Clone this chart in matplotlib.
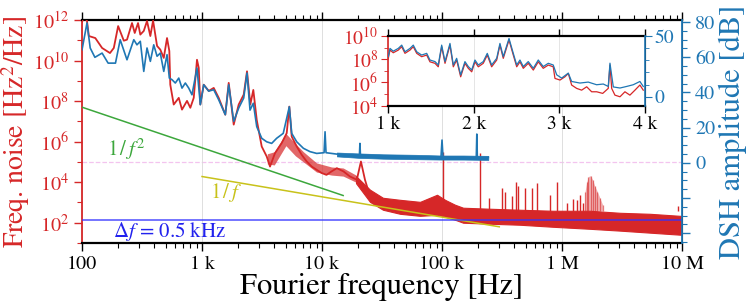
import matplotlib
matplotlib.use('Agg')
import matplotlib.pyplot as plt
import numpy as np
from matplotlib.ticker import FixedLocator, FuncFormatter, NullFormatter, MultipleLocator

plt.rcParams['font.family'] = 'STIXGeneral'
plt.rcParams['mathtext.fontset'] = 'stix'

RED = '#d62728'
BLUE = '#1f77b4'

# ---- main plot, red: frequency noise PSD, log10(Hz^2/Hz)
red_f = [100, 104, 110, 114, 129, 147, 171, 184, 200, 223, 237, 261, 275, 293, 306, 327,
         348, 371, 391, 422, 449, 480, 511, 534, 544, 581, 640, 681, 750, 799, 853, 908,
         939, 968, 1033, 1137, 1252, 1377, 1563, 1669, 1837, 2022, 2226, 2371, 2527, 2676,
         2858, 3144, 3459, 3687, 4055, 4613, 5079, 5340, 5590, 6155, 6773, 7458, 8209,
         9030, 9944, 10900, 12000, 13300, 15100, 17100, 19500, 21100, 22800, 25100]
red_log = [11.9, 12.2, 11.95, 11.21, 11.11, 10.62, 10.37, 10.62, 11.70, 10.98, 11.03, 11.85,
           11.36, 11.85, 11.28, 11.46, 11.95, 11.21, 11.97, 10.72, 10.54, 10.13, 11.11, 10.47,
           8.81, 7.83, 8.16, 7.58, 8.01, 7.67, 8.16, 10.04, 9.64, 7.83, 8.81, 8.50, 8.65,
           8.16, 7.33, 8.90, 6.84, 7.83, 8.32, 9.47, 7.83, 8.55, 7.07, 5.76, 5.27, 4.77,
           5.43, 5.93, 6.42, 7.73, 6.25, 5.76, 5.35, 5.02, 4.77, 4.61, 4.45, 4.36, 4.53,
           4.69, 4.53, 4.28, 4.12, 5.02, 4.12, 3.30]

# noisy spread of the red trace between 3 k and 19 k
mid_f = [3500, 4000, 5000, 6000, 7000, 9000, 12000, 15000, 19200]
mid_hi = [5.4, 5.5, 6.4, 5.9, 5.5, 4.95, 4.75, 4.7, 4.35]
mid_lo = [4.9, 4.85, 5.8, 5.3, 5.0, 4.5, 4.35, 4.3, 4.0]

# dense high-frequency noise floor (envelope of the red trace)
band_f = [19200, 25100, 32200, 44700, 65600, 90900, 106000, 128000, 150000, 251000,
          447000, 841000, 1710000, 3040000, 5410000, 9620000, 10000000]
band_hi = [4.30, 3.63, 3.23, 3.13, 3.03, 3.38, 3.13, 2.89, 2.74, 2.69, 2.64, 2.59, 2.59,
           2.49, 2.44, 2.34, 2.34]
band_lo = [3.95, 3.03, 2.64, 2.44, 2.34, 2.39, 2.30, 2.15, 2.00, 1.95, 1.90, 1.80, 1.70,
           1.61, 1.51, 1.41, 1.41]

# narrow spurs on top of the floor
spike_f = [101000, 207000, 248000, 314000, 335000, 380000, 414000, 432000, 492000, 559000,
           622000, 794000, 903000, 1090000, 1230000, 1330000, 1410000, 1500000, 9310000]
spike_top = [5.51, 5.45, 3.22, 3.71, 3.54, 3.30, 3.99, 3.79, 3.71, 3.71, 3.96, 3.38, 3.99,
             2.97, 3.17, 3.13, 3.38, 2.97, 2.84]

# spur cluster around 1.7 MHz
cl_f = [1555000, 1610000, 1660000, 1730000, 1800000, 1880000, 1970000, 2070000, 2180000]
cl_top = [3.54, 4.03, 4.28, 4.32, 4.12, 3.79, 3.54, 3.22, 2.89]

# ---- main plot, blue: DSH amplitude in dB
blue_f = [100, 110, 117, 128, 147, 165, 190, 208, 237, 270, 287, 306, 327, 348, 371, 396,
          422, 449, 480, 511, 534, 562, 599, 640, 681, 726, 775, 825, 908, 968, 1033, 1137,
          1252, 1377, 1563, 1669, 1837, 2022, 2226, 2371, 2512, 2676, 2858, 3144, 3459,
          3806, 4188, 4752, 5340, 5590, 6155, 6998, 7943, 9030, 10400, 10600, 10800, 13300,
          17100, 20500, 20700, 20900, 32400, 61300, 98000, 100000, 102000, 193000, 195000,
          197000, 243000]
blue_db = [64.2, 79.4, 65.2, 59.9, 62.3, 56.6, 56.6, 69.9, 58.5, 69.9, 67.0, 69.0, 51.9,
           65.2, 57.6, 67.0, 60.5, 62.3, 51.9, 61.4, 48.1, 47.2, 45.3, 48.1, 42.4, 45.3,
           42.4, 38.6, 53.8, 33.0, 44.3, 40.7, 41.5, 35.8, 27.3, 44.3, 23.5, 31.1, 36.8,
           51.0, 29.9, 33.8, 20.5, 13.9, 11.9, 11.0, 13.9, 16.7, 31.8, 16.7, 11.9, 8.2,
           6.3, 5.3, 5.7, 17.6, 5.7, 4.9, 4.4, 4.4, 11.0, 4.4, 3.8, 3.4, 2.8, 12.9, 2.8,
           3.0, 16.3, 3.0, 3.0]
bband_f = [13300, 20000, 32400, 61300, 99000, 150000, 243000]
bband_lo = [3.6, 2.8, 2.3, 2.0, 1.8, 1.8, 1.6]
bband_hi = [5.8, 5.3, 4.8, 4.5, 4.1, 4.1, 3.9]

# guide lines (end points)
f2_f, f2_val = [100, 15000], [5e7, 2.2e3]
f1_f, f1_val = [1000, 300000], [1.9e4, 63]
df_level = 141
zero_level = 1e5

# ---- inset (1 k .. 4 k, linear)
in_f = [1000, 1020, 1058, 1117, 1157, 1195, 1254, 1292, 1332, 1390, 1449, 1487, 1546, 1584,
        1624, 1663, 1721, 1760, 1799, 1846, 1896, 1935, 1975, 2013, 2052, 2110, 2157, 2208,
        2267, 2305, 2344, 2411, 2461, 2501, 2539, 2578, 2636, 2695, 2753, 2811, 2870, 2928,
        2948, 3007, 3065, 3104, 3143, 3202, 3260, 3319, 3377, 3436, 3506, 3571, 3591, 3611,
        3649, 3708, 3766, 3824, 3883, 3941, 3980]
in_red_log = [8.08, 8.79, 8.56, 8.79, 9.08, 8.51, 8.79, 9.08, 8.51, 8.22, 8.36, 7.78, 7.65,
              7.35, 9.08, 7.65, 9.22, 7.35, 7.93, 6.49, 7.65, 7.22, 6.92, 7.78, 7.35, 7.65,
              8.36, 7.35, 7.93, 9.22, 8.08, 9.66, 8.36, 7.35, 7.78, 7.22, 7.65, 7.07, 7.78,
              7.22, 7.50, 7.35, 6.35, 6.21, 6.49, 6.78, 5.78, 5.49, 5.34, 5.63, 5.20, 5.20,
              5.06, 5.49, 7.50, 5.49, 4.91, 4.77, 5.20, 4.91, 5.34, 5.78, 5.34]
in_blue_f = [1000, 1020, 1058, 1117, 1157, 1195, 1254, 1292, 1332, 1390, 1449, 1487, 1546,
             1584, 1624, 1663, 1721, 1760, 1799, 1846, 1896, 1935, 1975, 2013, 2052, 2110,
             2157, 2208, 2267, 2305, 2344, 2411, 2461, 2501, 2539, 2578, 2636, 2695, 2753,
             2811, 2870, 2928, 2968, 3026, 3104, 3143, 3240, 3337, 3435, 3513, 3571, 3591,
             3630, 3708, 3786, 3863, 3941, 3980]
in_blue_db = [33.0, 39.8, 37.5, 39.8, 42.5, 37.0, 39.8, 42.5, 37.0, 34.3, 35.7, 30.2, 28.9,
              26.1, 42.5, 28.9, 43.9, 26.1, 31.6, 17.9, 28.9, 24.8, 22.0, 30.2, 26.1, 28.9,
              35.7, 26.1, 31.6, 43.9, 33.0, 48.0, 35.7, 26.1, 30.2, 24.8, 28.9, 23.4, 30.2,
              24.8, 27.5, 26.1, 18.0, 15.3, 19.4, 12.5, 11.2, 12.0, 9.8, 10.4, 8.4, 27.6,
              8.0, 7.1, 8.4, 9.8, 12.5, 8.4]

xticks = [1e2, 1e3, 1e4, 1e5, 1e6, 1e7]
xticklabels = ['100', '1 k', '10 k', '100 k', '1 M', '10 M']


def p(v):
    return 10 ** np.asarray(v, dtype=float)


fig = plt.figure(figsize=(7.47, 3.05), dpi=100)
ax = fig.add_axes([0.1098, 0.2033, 0.8032, 0.7311])

ax.fill_between(mid_f, p(mid_lo), p(mid_hi), color=RED, alpha=0.7, lw=0, zorder=2)
ax.fill_between(band_f, p(band_lo), p(band_hi), color=RED, lw=0.8, zorder=2)
ax.fill_between(cl_f, p([2.59] * len(cl_f)), p(cl_top), color=RED, alpha=0.35, lw=0, zorder=2)
ax.vlines(cl_f, p([2.59] * len(cl_f)), p(cl_top), color=RED, alpha=0.6, lw=0.9, zorder=2)
ax.vlines(spike_f, p([2.6] * len(spike_f)), p(spike_top), color=RED, lw=1.0, zorder=2)
ax.plot(red_f, p(red_log), color=RED, lw=1.3, zorder=3)

ax.axhline(zero_level, color='#f3c4ef', lw=0.9, ls='--', zorder=1)
ax.plot(f2_f, f2_val, color='#3ca73c', lw=1.1, zorder=4)
ax.plot(f1_f, f1_val, color='#c8c21a', lw=1.1, zorder=4)
ax.axhline(df_level, color='#3333ff', lw=1.2, alpha=0.8, zorder=4)

ax.text(162, 4.0e5, r'$1\,/\,f^2$', color='#3ca73c', fontsize=15, va='center')
ax.text(1170, 3.0e3, r'$1\,/\,f$', color='#c8c21a', fontsize=15, va='center')
ax.text(181, 36, r'$\Delta f$ = 0.5 kHz', color='#2222ee', fontsize=15, va='center')

ax.set_xscale('log')
ax.set_yscale('log')
ax.set_xlim(100, 1e7)
ax.set_ylim(1e1, 1e12)
ax.xaxis.set_major_locator(FixedLocator(xticks))
ax.set_xticklabels(xticklabels)
ax.yaxis.set_major_locator(FixedLocator([1e2, 1e4, 1e6, 1e8, 1e10, 1e12]))
ax.yaxis.set_minor_locator(FixedLocator([1e1, 1e3, 1e5, 1e7, 1e9, 1e11]))
ax.yaxis.set_minor_formatter(NullFormatter())
ax.grid(True, axis='x', which='major', color='#d9d9d9', lw=0.6)
ax.tick_params(axis='x', which='both', direction='out', top=True, labelsize=14.5)
ax.tick_params(axis='x', which='major', length=6, width=1)
ax.tick_params(axis='x', which='minor', length=3.5, width=0.8)
ax.tick_params(axis='y', which='both', direction='out', colors=RED, labelsize=14.5)
ax.tick_params(axis='y', which='major', length=6, width=1)
ax.tick_params(axis='y', which='minor', length=3.5, width=0.8)
ax.spines['left'].set_color(RED)
ax.spines['left'].set_linewidth(1.3)
ax.spines['top'].set_linewidth(1.6)
ax.spines['bottom'].set_linewidth(1.6)
ax.set_xlabel('Fourier frequency [Hz]', fontsize=22, labelpad=0)
ax.set_ylabel('Freq. noise [Hz$^2$/Hz]', fontsize=20, color=RED)
ax.yaxis.set_label_coords(-0.084, 0.5)

ax2 = ax.twinx()
ax2.fill_between(bband_f, bband_lo, bband_hi, color=BLUE, lw=0.5)
ax2.plot(blue_f, blue_db, color=BLUE, lw=1.2)
ax2.set_ylim(-45.6, 81.1)
ax2.yaxis.set_major_locator(MultipleLocator(20))
ax2.yaxis.set_minor_locator(MultipleLocator(5))
ax2.yaxis.set_major_formatter(FuncFormatter(lambda v, pos: '' if v < 0 else '%d' % v))
ax2.tick_params(axis='y', which='both', direction='out', colors=BLUE, labelsize=14.5)
ax2.tick_params(axis='y', which='major', length=6, width=1)
ax2.tick_params(axis='y', which='minor', length=3.5, width=0.8)
ax2.spines['right'].set_color(BLUE)
ax2.spines['right'].set_linewidth(1.3)
ax2.spines['left'].set_visible(False)
ax2.spines['top'].set_visible(False)
ax2.spines['bottom'].set_visible(False)
ax2.set_ylabel('DSH amplitude [dB]', fontsize=22, color=BLUE, labelpad=2)

# inset
axin = fig.add_axes([0.5198, 0.6534, 0.3436, 0.2285])
axin.set_facecolor('white')
axin.plot(in_f, p(in_red_log), color=RED, lw=0.9)
axin.set_yscale('log')
axin.set_xlim(1000, 4000)
axin.set_ylim(1e4, 1e10)
axin.xaxis.set_major_locator(FixedLocator([1000, 2000, 3000, 4000]))
axin.set_xticklabels(['1 k', '2 k', '3 k', '4 k'])
axin.yaxis.set_major_locator(FixedLocator([1e4, 1e6, 1e8, 1e10]))
axin.yaxis.set_minor_locator(FixedLocator([1e5, 1e7, 1e9]))
axin.yaxis.set_minor_formatter(NullFormatter())
axin.grid(True, axis='x', color='#e0e0e0', lw=0.6)
axin.tick_params(axis='x', direction='out', top=True, length=5, width=1, labelsize=14, pad=2)
axin.tick_params(axis='y', which='both', direction='out', colors=RED, labelsize=14, pad=2)
axin.tick_params(axis='y', which='major', length=5)
axin.tick_params(axis='y', which='minor', length=3)
axin.spines['left'].set_color(RED)
axin.spines['left'].set_linewidth(1.2)
axin.spines['top'].set_linewidth(1.6)
axin.spines['bottom'].set_linewidth(1.6)

axin2 = axin.twinx()
axin2.plot(in_blue_f, in_blue_db, color=BLUE, lw=0.9)
axin2.set_ylim(-7.5, 50)
axin2.yaxis.set_major_locator(FixedLocator([0, 50]))
axin2.yaxis.set_minor_locator(MultipleLocator(10))
axin2.tick_params(axis='y', which='both', direction='out', colors=BLUE, labelsize=14, pad=2)
axin2.tick_params(axis='y', which='major', length=5)
axin2.tick_params(axis='y', which='minor', length=3)
axin2.spines['right'].set_color(BLUE)
axin2.spines['right'].set_linewidth(1.2)
for s in ['left', 'top', 'bottom']:
    axin2.spines[s].set_visible(False)

fig.savefig('out.png', dpi=100)
